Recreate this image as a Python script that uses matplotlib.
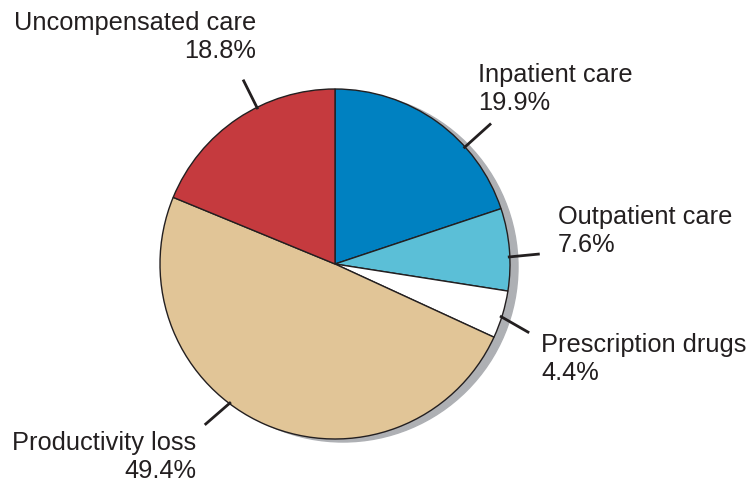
import numpy as np
import matplotlib
matplotlib.use("Agg")
import matplotlib.pyplot as plt
from matplotlib.patches import Circle

# slice data, clockwise from 12 o'clock
labels = ["Inpatient care", "Outpatient care", "Prescription drugs",
          "Productivity loss", "Uncompensated care"]
shares = [19.9, 7.6, 4.4, 49.4, 18.8]
colors = ["#0081c1", "#5bbfd7", "#ffffff", "#e1c597", "#c53a3e"]

# leader lines: angle at the rim, angle and radius at the outer end
leader_in = [42, 2.3, -17.5, 233, 116.5]
leader_out = [42, 2.8, -19.5, 231, 116.5]
leader_len = [210, 205, 206, 207, 206]
# text anchor (pixels from top-left) and alignment
text_pos = [(478, 89), (558, 231), (541, 359), (196, 457), (256, 37)]
text_ha = ["left", "left", "left", "right", "right"]

W, H = 749, 483
fig = plt.figure(figsize=(W / 100, H / 100), dpi=100)
ax = fig.add_axes([0, 0, 1, 1])

cx, cy, r = 335, H - 264, 175

# drop shadow
ax.add_patch(Circle((cx + 8, cy - 3), r, color="#aeb0b4", zorder=0))

ax.pie(shares, colors=colors, startangle=90, counterclock=False,
       radius=r, center=(cx, cy), frame=True,
       wedgeprops=dict(edgecolor="#231f20", linewidth=1.0))
ax.set_xlim(0, W)
ax.set_ylim(0, H)
ax.set_aspect("equal")
ax.axis("off")

for i, lab in enumerate(labels):
    a0, a1 = np.deg2rad(leader_in[i]), np.deg2rad(leader_out[i])
    x0, y0 = cx + (r - 2) * np.cos(a0), cy + (r - 2) * np.sin(a0)
    x1, y1 = cx + leader_len[i] * np.cos(a1), cy + leader_len[i] * np.sin(a1)
    ax.plot([x0, x1], [y0, y1], color="#231f20", lw=2, solid_capstyle="butt")
    tx, ty = text_pos[i]
    ax.text(tx, H - ty, f"{lab}\n{shares[i]}%", ha=text_ha[i], va="center",
            ma=text_ha[i], fontsize=18.3, family="Liberation Sans",
            color="#231f20", linespacing=1.25)

fig.savefig("out.png", dpi=100)
